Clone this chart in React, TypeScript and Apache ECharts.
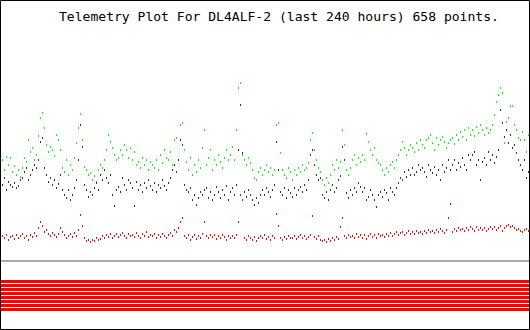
import React, { useEffect, useRef } from "react";
import * as echarts from "echarts";

const TITLE = "Telemetry Plot For DL4ALF-2 (last 240 hours) 658 points.";
const HOURS = 240;

// Readings (scale 0 = top of plot, 260 = baseline)
const greenSeries: number[] = [
  160, 170, 157, 165, 158, 172, 166, 175, 170, 177, 168, 158, 162, 140, 152,
  148, 160, 155, 136, 118, 113, 128, 145, 152, 147, 150, 156, 135, 140, 150,
  168, 172, 160, 175, 165, 170, 158, 143, 128, 114, 140, 167, 170, 175, 173,
  180, 176, 182, 170, 165, 168, 160, 150, 135, 142, 148, 155, 160, 158, 150,
  155, 145, 150, 158, 148, 160, 152, 165, 162, 168, 158, 165, 160, 170, 162,
  165, 168, 160, 170, 155, 163, 150, 158, 160, 152, 165, 140, 138, 160, 125,
  123, 150, 162, 170, 158, 175, 165, 172, 160, 168, 148, 130, 165, 158, 150,
  170, 160, 165, 155, 162, 168, 158, 150, 160, 155, 147, 160, 130, 88, 83,
  155, 160, 165, 158, 163, 170, 178, 180, 172, 168, 175, 170, 165, 172, 168,
  175, 170, 125, 123, 153, 170, 175, 178, 168, 172, 180, 170, 175, 168, 172,
  165, 170, 168, 163, 140, 133, 150, 160, 168, 172, 180, 185, 178, 183, 175,
  165, 170, 160, 168, 162, 130, 145, 170, 175, 168, 160, 155, 165, 158, 162,
  155, 160, 134, 142, 150, 155, 148, 160, 163, 165, 170, 175, 168, 172, 165,
  162, 168, 160, 155, 150, 142, 148, 155, 150, 145, 148, 152, 143, 150, 140,
  145, 148, 140, 138, 135, 143, 150, 138, 145, 140, 137, 142, 148, 143, 140,
  138, 144, 135, 140, 132, 137, 130, 140, 128, 135, 130, 136, 127, 133, 125,
  130, 135, 128, 133, 130, 125, 115, 102, 95, 88, 93, 143, 122, 118, 106,
  106, 125, 130, 138, 140, 132, 140, 152, 135,
];

const blackSeries: number[] = [
  185, 178, 190, 182, 185, 187, 183, 188, 186, 180, 178, 172, 168, 180, 175,
  170, 165, 168, 160, 142, 138, 168, 175, 182, 178, 185, 180, 188, 184, 175,
  190, 195, 198, 190, 200, 195, 188, 180, 160, 125, 147, 185, 190, 197, 192,
  195, 188, 183, 190, 175, 180, 170, 178, 183, 175, 195, 206, 190, 187, 192,
  178, 185, 190, 180, 183, 188, 206, 182, 190, 185, 192, 183, 188, 180, 186,
  190, 183, 192, 185, 188, 180, 186, 190, 183, 178, 170, 165, 172, 160, 140,
  145, 185, 190, 192, 188, 200, 195, 205, 198, 192, 195, 190, 188, 198, 192,
  200, 195, 187, 192, 198, 190, 195, 186, 200, 192, 188, 195, 185, 150, 105,
  153, 192, 197, 190, 195, 200, 205, 198, 203, 195, 190, 195, 188, 192, 197,
  190, 185, 142, 170, 192, 195, 188, 198, 190, 193, 197, 188, 195, 190, 187,
  192, 185, 190, 180, 155, 150, 165, 175, 180, 178, 195, 198, 192, 200, 190,
  185, 192, 188, 180, 176, 147, 160, 193, 198, 190, 195, 188, 192, 183, 187,
  192, 188, 200, 197, 190, 195, 200, 207, 195, 192, 197, 190, 193, 200, 188,
  192, 195, 188, 183, 178, 180, 172, 177, 170, 175, 168, 175, 172, 165, 170,
  168, 172, 177, 165, 170, 173, 167, 175, 170, 180, 165, 172, 168, 160, 170,
  165, 160, 170, 163, 167, 158, 165, 170, 155, 160, 155, 152, 165, 160, 180,
  162, 158, 165, 152, 160, 155, 163, 157, 150, 110, 123, 137, 130, 143, 135,
  148, 145, 153, 160, 165, 170, 160, 178, 172,
];

const redSeries: number[] = [
  236, 238, 235, 240, 237, 236, 239, 235, 238, 236, 234, 238, 236, 240, 235,
  237, 233, 236, 228, 222, 226, 232, 230, 234, 236, 233, 235, 237, 234, 228,
  232, 235, 238, 236, 234, 237, 233, 236, 230, 215, 226, 238, 241, 240, 242,
  240, 241, 238, 240, 239, 236, 238, 235, 237, 234, 238, 236, 234, 237, 235,
  233, 236, 238, 234, 236, 235, 237, 233, 236, 238, 234, 236, 232, 237, 235,
  236, 234, 238, 235, 237, 234, 236, 238, 235, 233, 236, 230, 232, 228, 222,
  218, 236, 238, 235, 240, 237, 235, 239, 236, 238, 234, 222, 236, 238, 235,
  237, 235, 239, 236, 238, 235, 237, 240, 236, 238, 236, 238, 235, 222, 195,
  200, 238, 240, 236, 238, 240, 237, 241, 238, 236, 238, 235, 239, 237, 240,
  236, 238, 214, 226, 238, 240, 237, 239, 236, 238, 238, 236, 239, 237, 235,
  238, 236, 239, 237, 235, 216, 237, 239, 236, 240, 241, 240, 242, 239, 241,
  238, 240, 237, 239, 227, 218, 236, 238, 235, 237, 236, 238, 234, 237, 235,
  238, 235, 239, 236, 234, 237, 235, 238, 234, 236, 235, 237, 234, 236, 233,
  236, 234, 232, 235, 233, 232, 235, 233, 231, 234, 232, 234, 231, 233, 232,
  234, 231, 233, 230, 232, 231, 233, 230, 232, 229, 231, 233, 230, 218, 204,
  232, 229, 231, 228, 230, 229, 231, 228, 230, 227, 229, 231, 227, 230, 228,
  230, 228, 231, 229, 227, 229, 227, 230, 228, 226, 231, 228, 226, 225, 227,
  226, 228, 230, 229, 231, 232, 230, 229, 231,
];

// status bit channels shown below the plot (all on)
const bitChannels: number[] = [1, 1, 1, 1, 1, 1, 1, 1];

const toPairs = (arr: number[]) =>
  arr.map((v, i) => [(i * HOURS) / (arr.length - 1), v]);

export default function App() {
  const ref = useRef<HTMLDivElement>(null);

  useEffect(() => {
    if (!ref.current) return;
    const chart = echarts.init(ref.current, null, { renderer: "svg" });

    const mk = (name: string, data: number[], color: string) => ({
      name,
      type: "scatter",
      data: toPairs(data),
      symbol: "rect",
      symbolSize: [1, 2],
      itemStyle: { color, opacity: 1 },
      emphasis: { disabled: true },
      silent: true,
    });

    const stripes = bitChannels.map((on, i) => ({
      type: "rect",
      shape: { x: 1, y: 280 + i * 4, width: 528, height: 3 },
      style: { fill: on ? "#ff0000" : "#ffffff" },
      silent: true,
    }));

    chart.setOption({
      animation: false,
      backgroundColor: "#ffffff",
      title: {
        text: TITLE,
        left: 54,
        top: 5,
        textStyle: {
          fontFamily: "DejaVu Sans Mono",
          fontSize: 13.05,
          fontWeight: "normal",
          color: "#000000",
        },
      },
      grid: { left: 2.5, right: 1.5, top: 0, height: 260, containLabel: false },
      xAxis: { type: "value", min: 0, max: HOURS, show: false },
      yAxis: { type: "value", min: 0, max: 260, inverse: true, show: false },
      series: [
        mk("green", greenSeries, "#00ff00"),
        mk("black", blackSeries, "#333333"),
        mk("red", redSeries, "#ff0000"),
      ],
      graphic: [
        {
          type: "rect",
          shape: { x: 1, y: 260, width: 528, height: 2 },
          style: { fill: "#aaaaaa" },
          silent: true,
        },
        ...stripes,
        {
          type: "rect",
          shape: { x: 0.5, y: 0.5, width: 529, height: 329 },
          style: { fill: "none", stroke: "#000000", lineWidth: 1 },
          silent: true,
        },
      ],
    });

    return () => chart.dispose();
  }, []);

  return (
    <div
      ref={ref}
      style={{ position: "fixed", left: 0, top: 0, width: 530, height: 330 }}
    />
  );
}
